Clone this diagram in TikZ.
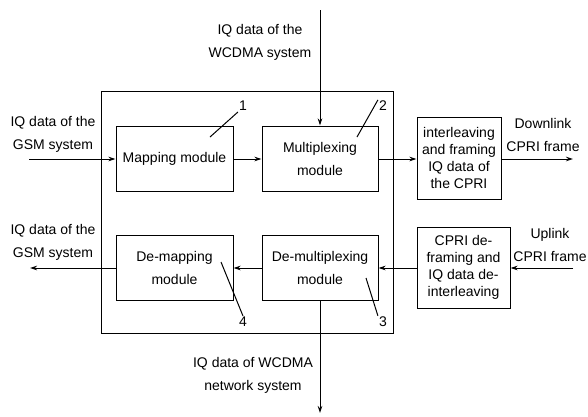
\documentclass[tikz,border=0pt]{standalone}
\usepackage{fontspec}
\setmainfont{Liberation Sans}
\usetikzlibrary{arrows.meta}
\begin{document}
\begin{tikzpicture}[x=1pt,y=-1pt,
  every node/.style={font=\fontsize{14}{23}\selectfont},
  module/.style={draw,line width=1pt,inner sep=0pt,align=center},
  tightbox/.style={module,font=\fontsize{14}{16.8}\selectfont},
  lbl/.style={align=center,inner sep=0pt},
  num/.style={inner sep=1pt,font=\fontsize{14}{16}\selectfont},
  conn/.style={line width=1pt,-{Stealth[length=7pt,width=4.5pt]}},
  lead/.style={line width=1pt}]
\useasboundingbox (0,0) rectangle (588,416);
% outer box
\node[module,minimum width=292pt,minimum height=242pt] (big) at (247,212) {};
% modules
\node[module,minimum width=117pt,minimum height=65pt] (map) at (174.5,158.5) {Mapping module};
\node[module,minimum width=116pt,minimum height=65pt] (mux) at (320,158.5) {Multiplexing\\module};
\node[tightbox,minimum width=84pt,minimum height=82pt] (ilv) at (459,158) {interleaving\\and framing\\IQ data of\\the CPRI};
\node[module,minimum width=117pt,minimum height=65pt] (demap) at (174.5,267.5) {De-mapping\\module};
\node[module,minimum width=116pt,minimum height=65pt] (demux) at (320,267.5) {De-multiplexing\\module};
\node[tightbox,minimum width=93pt,minimum height=81pt] (dfr) at (463.5,267.5) {CPRI de-\\framing and\\IQ data de-\\interleaving};
% free ends
\coordinate (gsmin) at (29,159);
\coordinate (gsmout) at (30,268);
\coordinate (wtop) at (320,10);
\coordinate (wbot) at (320,413);
\coordinate (dlout) at (573,159);
\coordinate (ulin) at (573,268);
% connectors
\draw[conn] (gsmin) -- (map.west |- gsmin);
\draw[conn] (map.east |- gsmin) -- (mux.west |- gsmin);
\draw[conn] (mux.east |- gsmin) -- (ilv.west |- gsmin);
\draw[conn] (ilv.east |- dlout) -- (dlout);
\draw[conn] (wtop) -- (mux.north);
\draw[conn] (ulin) -- (dfr.east |- ulin);
\draw[conn] (dfr.west |- ulin) -- (demux.east |- ulin);
\draw[conn] (demux.west |- ulin) -- (demap.east |- ulin);
\draw[conn] (demap.west |- gsmout) -- (gsmout);
\draw[conn] (demux.south) -- (wbot);
% labels
\node[lbl] (t1) at (53,134) {IQ data of the\\GSM system};
\node[lbl] (t2) at (260,42) {IQ data of the\\WCDMA system};
\node[lbl] (t3) at (543,135) {Downlink\\CPRI frame};
\node[lbl] (t4) at (53,242) {IQ data of the\\GSM system};
\node[lbl] (t5) at (550,245) {Uplink\\CPRI frame};
\node[lbl] (t6) at (253,375) {IQ data of WCDMA\\network system};
% numbers
\node[num] (n1) at (243,106) {1};
\node[num] (n2) at (383,106) {2};
\node[num] (n3) at (383,322) {3};
\node[num] (n4) at (243,322) {4};
\coordinate (c1) at (210,137);
\coordinate (c2) at (357,137);
\coordinate (c3) at (366,278);
\coordinate (c4) at (221,262);
\draw[lead] (c1) -- (n1.south west);
\draw[lead] (c2) -- (n2.north west);
\draw[lead] (c3) -- (n3.north west);
\draw[lead] (c4) -- (n4.north);
\end{tikzpicture}
\end{document}
